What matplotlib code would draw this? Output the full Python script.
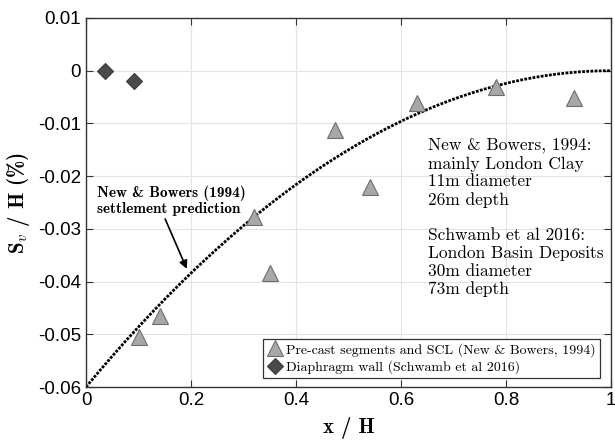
import matplotlib
matplotlib.use("Agg")
import matplotlib.pyplot as plt
import numpy as np

plt.rcParams['axes.formatter.use_mathtext'] = False
plt.rcParams['mathtext.fontset'] = 'cm'

# New & Bowers (1994) data - pre-cast segments and SCL
nb_x = [0.10, 0.14, 0.32, 0.35, 0.475, 0.54, 0.63, 0.78, 0.93]
nb_y = [-0.0505, -0.0466, -0.0277, -0.0383, -0.0112, -0.0221, -0.0062, -0.0031, -0.0052]

# Schwamb et al 2016 - diaphragm wall
dw_x = [0.036, 0.091]
dw_y = [0.0, -0.0020]

# settlement prediction: S/H = S_max * (1 - x/H)^2
s_max = -0.06
pred_x = np.linspace(0, 1, 200)
pred_y = s_max * (1 - pred_x) ** 2

xticks = [0, 0.2, 0.4, 0.6, 0.8, 1]
xtick_labels = ['0', '0.2', '0.4', '0.6', '0.8', '1']
yticks = [0.01, 0, -0.01, -0.02, -0.03, -0.04, -0.05, -0.06]
ytick_labels = ['0.01', '0', '-0.01', '-0.02', '-0.03', '-0.04', '-0.05', '-0.06']

fig = plt.figure(figsize=(6.15, 4.41), dpi=100)
ax = fig.add_axes([86 / 615, 1 - 387 / 441, 525 / 615, 369 / 441])

ax.plot(pred_x, pred_y, color='black', linestyle=(0, (1, 0.5)), linewidth=2.0, zorder=2)
ax.plot(nb_x, nb_y, linestyle='none', marker='^', markersize=11,
        markerfacecolor='#a8a8a8', markeredgecolor='#6e6e6e', markeredgewidth=0.8,
        label='Pre-cast segments and SCL (New & Bowers, 1994)', zorder=3)
ax.plot(dw_x, dw_y, linestyle='none', marker='D', markersize=8,
        markerfacecolor='#4a4a4a', markeredgecolor='#3a3a3a', markeredgewidth=0.8,
        label='Diaphragm wall (Schwamb et al 2016)', zorder=3)

ax.set_xlim(0, 1)
ax.set_ylim(-0.06, 0.01)
ax.set_xticks(xticks)
ax.set_xticklabels(xtick_labels, fontfamily='Liberation Sans', fontsize=13.5)
ax.set_yticks(yticks)
ax.set_yticklabels(ytick_labels, fontfamily='Liberation Sans', fontsize=13.5)
ax.tick_params(direction='in', top=True, right=True, length=5, width=0.8, color='#333333')
ax.grid(True, color='#e3e3e3', linewidth=0.8)
ax.set_axisbelow(True)
for sp in ax.spines.values():
    sp.set_color('#333333')
    sp.set_linewidth(1.0)

ax.set_xlabel('x / H', fontfamily='cmb10', fontsize=15, labelpad=6)
ax.set_ylabel(r'S$_v$ / H (%)', fontfamily='cmb10', fontsize=15, labelpad=4)

ax.text(0.651, -0.0127, 'New & Bowers, 1994:\nmainly London Clay\n11m diameter\n26m depth',
        fontfamily='cmr10', fontsize=12.5, va='top', ha='left', linespacing=1.2)
ax.text(0.651, -0.0297, 'Schwamb et al 2016:\nLondon Basin Deposits\n30m diameter\n73m depth',
        fontfamily='cmr10', fontsize=12.5, va='top', ha='left', linespacing=1.2)

ax.annotate('New & Bowers (1994)\nsettlement prediction', xy=(0.192, -0.0376),
            xytext=(0.021, -0.0247), fontfamily='cmb10', fontsize=11, va='center', ha='left',
            linespacing=1.1,
            arrowprops=dict(arrowstyle='-|>', color='black', lw=1.2, mutation_scale=12,
                            shrinkA=0, shrinkB=0, relpos=(0.45, 0.0)))

leg = ax.legend(loc='lower right', bbox_to_anchor=(0.979, 0.024), prop={'family': 'cmr10', 'size': 10},
                frameon=True, fancybox=False, edgecolor='#333333', framealpha=1,
                borderpad=0.3, handletextpad=0.2, labelspacing=0.25, handlelength=1.2,
                borderaxespad=0)
leg.get_frame().set_linewidth(0.9)

fig.savefig('out.png', dpi=100)
